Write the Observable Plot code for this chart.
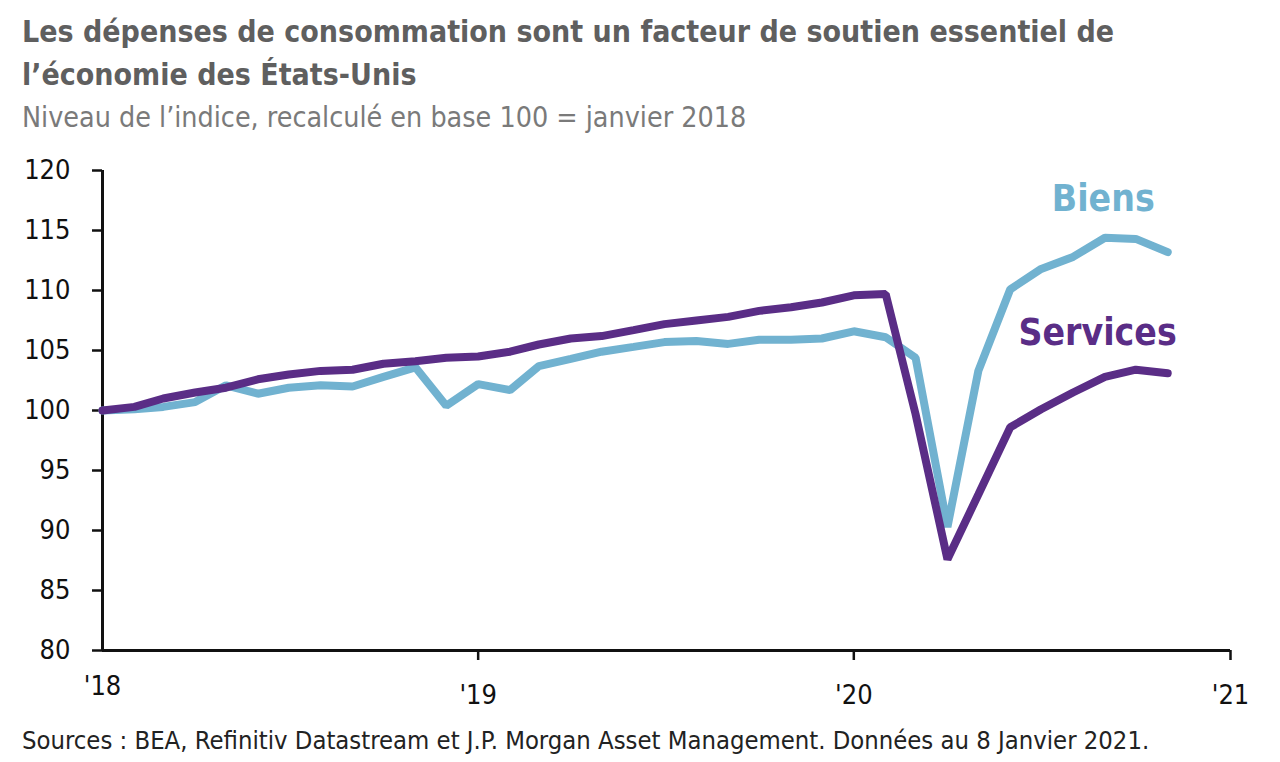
<!DOCTYPE html>
<html>
<head>
<meta charset="utf-8">
<script src="https://cdn.jsdelivr.net/npm/d3@7"></script>
<script src="https://cdn.jsdelivr.net/npm/@observablehq/plot@0.6"></script>
<style>
  html, body { margin: 0; padding: 0; background: #fff; width: 1280px; height: 762px; overflow: hidden; }
  body { font-family: "DejaVu Sans Condensed", "Liberation Sans Narrow", "Roboto", sans-serif; position: relative; }
  #title { position: absolute; left: 22px; top: 10px; width: 1220px; font-size: 30px; line-height: 43px; font-weight: bold; color: #5f5f5f; }
  #subtitle { position: absolute; left: 22px; top: 101px; font-size: 28.4px; color: #7a7a7a; }
  #chart { position: absolute; left: 0; top: 145px; }
  #caption { position: absolute; left: 22px; top: 725px; font-size: 25.4px; color: #222; }
</style>
</head>
<body>
<div id="title">Les dépenses de consommation sont un facteur de soutien essentiel de l’économie des États-Unis</div>
<div id="subtitle">Niveau de l’indice, recalculé en base 100 = janvier 2018</div>
<div id="chart"></div>
<div id="caption">Sources : BEA, Refinitiv Datastream et J.P. Morgan Asset Management. Données au 8 Janvier 2021.</div>
<script>
const months = ["2018-01","2018-02","2018-03","2018-04","2018-05","2018-06","2018-07","2018-08","2018-09","2018-10","2018-11","2018-12",
  "2019-01","2019-02","2019-03","2019-04","2019-05","2019-06","2019-07","2019-08","2019-09","2019-10","2019-11","2019-12",
  "2020-01","2020-02","2020-03","2020-04","2020-05","2020-06","2020-07","2020-08","2020-09","2020-10","2020-11"];
const biens = [100.0, 100.1, 100.3, 100.7, 102.1, 101.4, 101.9, 102.1, 102.0, 102.8, 103.6, 100.4,
  102.2, 101.7, 103.7, 104.3, 104.9, 105.3, 105.7, 105.8, 105.55, 105.9, 105.9, 106.0,
  106.6, 106.1, 104.4, 90.3, 103.3, 110.1, 111.8, 112.8, 114.4, 114.3, 113.2];
const services = [100.0, 100.3, 101.0, 101.5, 101.9, 102.6, 103.0, 103.3, 103.4, 103.9, 104.1, 104.4,
  104.5, 104.9, 105.5, 106.0, 106.2, 106.7, 107.2, 107.5, 107.8, 108.3, 108.6, 109.0,
  109.6, 109.7, 99.7, 87.6, 93.0, 98.6, 100.1, 101.5, 102.8, 103.4, 103.1];
const seriesNames = ["Biens", "Services"];
const seriesColors = ["#71b2d0", "#5a2d86"];
const yTicks = [80, 85, 90, 95, 100, 105, 110, 115, 120];
const xTickYears = ["2018", "2019", "2020", "2021"];
const xTickLabels = ["'18", "'19", "'20", "'21"];

const parse = d3.utcParse("%Y-%m");
const rows = [];
months.forEach((m, i) => {
  rows.push({date: parse(m), value: biens[i], series: seriesNames[0]});
  rows.push({date: parse(m), value: services[i], series: seriesNames[1]});
});
const xTicks = xTickYears.map(y => d3.utcParse("%Y")(y));
const lastRows = seriesNames.map(s => rows.filter(r => r.series === s).at(-1));

const font = "DejaVu Sans Condensed, Liberation Sans Narrow, sans-serif";
const chart = Plot.plot({
  width: 1280,
  height: 580,
  marginLeft: 102,
  marginRight: 50,
  marginTop: 25,
  marginBottom: 75,
  style: {fontFamily: font, fontSize: "27px", color: "#111", background: "transparent", overflow: "visible"},
  x: {type: "utc", domain: [xTicks[0], xTicks[3]], label: null},
  y: {domain: [80, 120], label: null},
  color: {domain: seriesNames, range: seriesColors},
  marks: [
    Plot.axisY({ticks: yTicks, tickSize: 10, tickPadding: 22, strokeWidth: 2.5, fontSize: 27, label: null}),
    Plot.axisX({ticks: xTicks.slice(1), tickSize: 10, tickPadding: 24, tickFormat: d => xTickLabels[xTicks.findIndex(t => +t === +d)], strokeWidth: 2.5, fontSize: 27, label: null}),
    Plot.text(xTicks.slice(0, 1), {x: d => d, frameAnchor: "bottom", dy: 44, text: d => xTickLabels[0], fontSize: 27, fill: "#111"}),
    Plot.ruleY([80], {stroke: "#111", strokeWidth: 3}),
    Plot.ruleX([xTicks[0]], {stroke: "#111", strokeWidth: 3}),
    Plot.lineY(rows, {x: "date", y: "value", z: "series", stroke: "series", strokeWidth: 8, strokeLinejoin: "miter", strokeLinecap: "round"}),
    Plot.text(lastRows.slice(0, 1), {x: "date", y: "value", text: "series", fill: "series", textAnchor: "end", dx: -13, dy: -53, fontSize: 37, fontWeight: "bold"}),
    Plot.text(lastRows.slice(1, 2), {x: "date", y: "value", text: "series", fill: "series", textAnchor: "end", dx: 9, dy: -40, fontSize: 37, fontWeight: "bold"})
  ]
});
document.getElementById("chart").appendChild(chart);
</script>
</body>
</html>
